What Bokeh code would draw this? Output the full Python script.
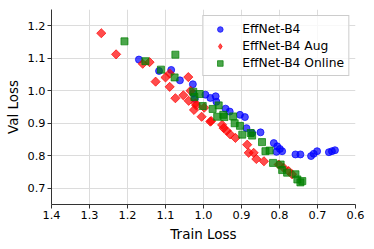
from bokeh.plotting import figure
from bokeh.models import Range1d, FixedTicker, Legend, LegendItem, NumeralTickFormatter
from bokeh.embed import file_html
from bokeh.resources import INLINE
import math

# EffNet-B4
b4_train = [1.170, 1.117, 1.085, 1.062, 1.028, 1.027, 1.023, 0.995, 0.982, 0.968, 0.966,
            0.942, 0.931, 0.904, 0.891, 0.887, 0.872, 0.850, 0.815, 0.806, 0.799, 0.793,
            0.808, 0.758, 0.745, 0.717, 0.710, 0.701, 0.670, 0.662, 0.654]
b4_val = [1.096, 1.061, 1.064, 1.032, 1.020, 0.992, 0.975, 0.988, 0.978, 0.983, 0.966,
          0.945, 0.936, 0.926, 0.919, 0.885, 0.870, 0.872, 0.839, 0.829, 0.821, 0.814,
          0.812, 0.804, 0.804, 0.799, 0.806, 0.814, 0.811, 0.814, 0.817]

# EffNet-B4 Aug
aug_train = [1.269, 1.230, 1.160, 1.142, 1.126, 1.100, 1.089, 1.089, 1.074, 1.053, 1.040,
             1.039, 1.034, 1.025, 1.019, 1.021, 1.005, 0.998, 0.982, 0.980, 0.951, 0.947,
             0.939, 0.930, 0.916, 0.885, 0.881, 0.868, 0.861, 0.841, 0.802, 0.789, 0.776,
             0.767]
aug_val = [1.177, 1.112, 1.083, 1.088, 1.028, 1.041, 1.053, 1.012, 0.977, 0.986, 1.042,
           0.969, 1.000, 0.941, 0.955, 0.961, 0.920, 0.948, 0.905, 0.907, 0.895, 0.885,
           0.877, 0.866, 0.855, 0.834, 0.809, 0.809, 0.790, 0.783, 0.773, 0.763, 0.753,
           0.743]

# EffNet-B4 Online
onl_train = [1.208, 1.153, 1.074, 1.112, 1.076, 1.027, 1.010, 1.024, 1.002, 0.976, 0.960,
             0.964, 0.945, 0.948, 0.922, 0.918, 0.904, 0.898, 0.876, 0.872, 0.846, 0.837,
             0.826, 0.817, 0.797, 0.793, 0.780, 0.758, 0.753, 0.740, 0.745]
onl_val = [1.152, 1.091, 1.111, 1.065, 1.041, 0.997, 0.990, 0.981, 0.953, 0.944, 0.955,
           0.920, 0.919, 0.926, 0.921, 0.900, 0.892, 0.865, 0.870, 0.862, 0.842, 0.814,
           0.816, 0.778, 0.773, 0.756, 0.748, 0.743, 0.727, 0.722, 0.718]

series_labels = ["EffNet-B4", "EffNet-B4 Aug", "EffNet-B4 Online"]
x_ticks = [1.4, 1.3, 1.2, 1.1, 1.0, 0.9, 0.8, 0.7, 0.6]
y_ticks = [0.7, 0.8, 0.9, 1.0, 1.1, 1.2]

FONT = "DejaVu Sans"

p = figure(width=366, height=244, output_backend="svg", toolbar_location=None,
           x_range=Range1d(1.4, 0.6), y_range=Range1d(0.65, 1.25),
           min_border_left=51, min_border_right=11, min_border_top=9, min_border_bottom=36)
p.outline_line_color = None
p.background_fill_color = "white"
p.border_fill_color = "white"

r1 = p.scatter(b4_train, b4_val, marker="circle", size=7, fill_color="#0000ff",
               line_color="#0000ff", fill_alpha=0.7, line_alpha=0.7)
r2 = p.scatter(aug_train, aug_val, marker="square", angle=math.pi / 4, size=6.5,
               fill_color="#ff0000", line_color="#ff0000", fill_alpha=0.7, line_alpha=0.7)
r3 = p.scatter(onl_train, onl_val, marker="square", size=7, fill_color="#008000",
               line_color="#008000", fill_alpha=0.7, line_alpha=0.7)
# hidden twin of the Aug series, used only for its (unrotated) diamond legend glyph
r2_leg = p.scatter(aug_train, aug_val, marker="diamond", size=7, fill_color="#ff0000",
                   line_color="#ff0000", fill_alpha=0.7, line_alpha=0.7, visible=False)

for ax, ticks, lab in ((p.xaxis[0], x_ticks, "Train Loss"), (p.yaxis[0], y_ticks, "Val Loss")):
    ax.ticker = FixedTicker(ticks=ticks)
    ax.formatter = NumeralTickFormatter(format="0.0")
    ax.axis_label = lab
    ax.axis_label_text_font = FONT
    ax.axis_label_text_font_style = "normal"
    ax.axis_label_text_font_size = "13.5px"
    ax.axis_label_text_color = "black"
    ax.major_label_text_font = FONT
    ax.major_label_text_font_size = "11.3px"
    ax.major_label_text_color = "black"
    ax.major_tick_in = 0
    ax.major_tick_out = 4
    ax.minor_tick_line_color = None
    ax.axis_line_color = "#333333"
    ax.major_tick_line_color = "#333333"
    ax.major_label_standoff = 2
    ax.axis_label_standoff = 4

p.grid.grid_line_color = "#dcdcdc"
p.grid.grid_line_width = 1

legend = Legend(items=[LegendItem(label=series_labels[0], renderers=[r1]),
                       LegendItem(label=series_labels[1], renderers=[r2_leg]),
                       LegendItem(label=series_labels[2], renderers=[r3])],
                location="top_right")
legend.label_text_font = FONT
legend.label_text_font_size = "12.3px"
legend.label_text_color = "black"
legend.border_line_color = "#cccccc"
legend.border_line_alpha = 1
legend.background_fill_alpha = 0.8
legend.inactive_fill_alpha = 0.0
legend.margin = 6
legend.padding = 4
legend.spacing = 0
legend.glyph_width = 25
legend.glyph_height = 14
legend.label_height = 17
legend.label_standoff = 10
p.add_layout(legend)

open("out.html", "w").write(file_html(p, INLINE))
